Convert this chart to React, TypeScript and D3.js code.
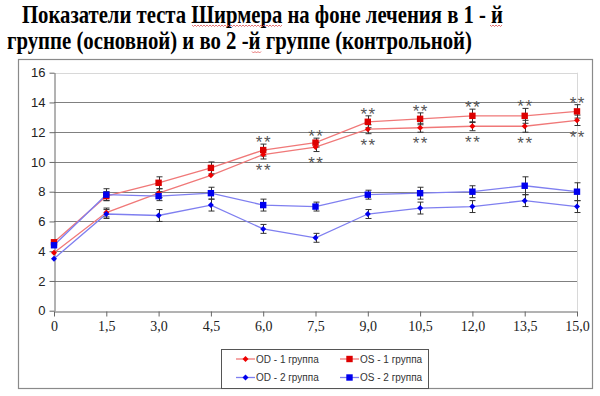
import React, { useRef, useEffect } from "react";
import * as d3 from "d3";

// time points (months) and labels
const timeValues = [0, 1.5, 3, 4.5, 6, 7.5, 9, 10.5, 12, 13.5, 15];
const timeLabels = ["0", "1,5", "3,0", "4,5", "6,0", "7,5", "9,0", "10,5", "12,0", "13,5", "15,0"];
const yTicks = [0, 2, 4, 6, 8, 10, 12, 14, 16];

// Schirmer test values
const odGroup1 = [3.9, 6.6, 7.9, 9.1, 10.5, 11.0, 12.2, 12.3, 12.4, 12.4, 12.8];
const osGroup1 = [4.6, 7.7, 8.6, 9.6, 10.8, 11.3, 12.7, 12.9, 13.1, 13.1, 13.4];
const odGroup2 = [3.5, 6.5, 6.4, 7.1, 5.5, 4.9, 6.5, 6.9, 7.0, 7.4, 7.0];
const osGroup2 = [4.4, 7.8, 7.7, 7.9, 7.1, 7.0, 7.8, 7.9, 8.0, 8.4, 8.0];

// error bar half widths
const odGroup1Err = [0, 0.3, 0.3, 0, 0.3, 0.3, 0.3, 0.3, 0.3, 0.4, 0.35];
const osGroup1Err = [0, 0.3, 0.4, 0.4, 0.4, 0.3, 0.4, 0.4, 0.45, 0.5, 0.45];
const odGroup2Err = [0, 0.3, 0.4, 0.4, 0.3, 0.3, 0.3, 0.4, 0.4, 0.4, 0.4];
const osGroup2Err = [0, 0.4, 0.3, 0.4, 0.4, 0.3, 0.3, 0.4, 0.4, 0.6, 0.6];

// indices marked with ** (significant difference)
const starIndices = [4, 5, 6, 7, 8, 9, 10];

const titleLines = [
  "Показатели теста Ширмера на фоне лечения в 1 - й",
  "группе (основной)  и во 2 -й группе (контрольной)",
];

const seriesList = [
  { name: "OD - 1 группа", values: odGroup1, errors: odGroup1Err, line: "#f07878", marker: "#ee0000", shape: "diamond" },
  { name: "OS - 1 группа", values: osGroup1, errors: osGroup1Err, line: "#f07878", marker: "#dd0000", shape: "square" },
  { name: "OD - 2 группа", values: odGroup2, errors: odGroup2Err, line: "#7f7ff0", marker: "#0000ee", shape: "diamond" },
  { name: "OS - 2 группа", values: osGroup2, errors: osGroup2Err, line: "#7f7ff0", marker: "#0000ee", shape: "square" },
];

const W = 600;
const H = 396;
const plot = { left: 54, right: 577, top: 72.7, bottom: 310.7 };

const drawMarker = (g, shape, x, y, color) => {
  if (shape === "square") {
    g.append("rect")
      .attr("x", x - 3.2)
      .attr("y", y - 3.2)
      .attr("width", 6.4)
      .attr("height", 6.4)
      .attr("fill", color);
  } else {
    g.append("path")
      .attr("d", `M${x},${y - 3}L${x + 3},${y}L${x},${y + 3}L${x - 3},${y}Z`)
      .attr("fill", color);
  }
};

const App = () => {
  const svgRef = useRef(null);

  useEffect(() => {
    const svg = d3.select(svgRef.current);
    svg.selectAll("*").remove();

    const xScale = d3.scaleLinear().domain([0, 15]).range([plot.left, plot.right]);
    const yScale = d3.scaleLinear().domain([0, 16]).range([plot.bottom, plot.top]);

    svg.append("rect").attr("width", W).attr("height", H).attr("fill", "#ffffff");

    // Title (narrow bold serif, stretched vertically like the original slide)
    const titlePos = [
      { x: 22, y: 22.5, len: 481 },
      { x: 7, y: 48.5, len: 465 },
    ];
    titleLines.forEach((t, i) => {
      svg.append("text")
        .attr("transform", `translate(${titlePos[i].x},${titlePos[i].y}) scale(1,1.2)`)
        .attr("textLength", titlePos[i].len)
        .attr("lengthAdjust", "spacingAndGlyphs")
        .style("font-family", "'Liberation Serif', 'Times New Roman', serif")
        .style("font-weight", "bold")
        .style("font-size", "21px")
        .attr("fill", "#000")
        .text(t);
    });

    // spell-check squiggles
    const squiggle = (x0, x1, y) => {
      const pts = d3.range(x0, x1 + 0.1, 1.5).map((x, i) => [x, y + (i % 2 ? 1 : -0.5)]);
      svg.append("path")
        .attr("d", d3.line()(pts))
        .attr("fill", "none")
        .attr("stroke", "#e05050")
        .attr("stroke-width", 0.8);
    };
    squiggle(192, 282, 25.5);
    squiggle(490, 502, 25.5);
    squiggle(252, 262, 52);

    // outer chart frame
    svg.append("rect")
      .attr("x", 18.5).attr("y", 59.5)
      .attr("width", 574).attr("height", 329)
      .attr("fill", "none")
      .attr("stroke", "#8a8a8a")
      .attr("stroke-width", 1.2);

    // gridlines
    svg.append("g")
      .selectAll("line")
      .data(yTicks.filter(d => d > 0))
      .join("line")
      .attr("x1", plot.left)
      .attr("x2", plot.right)
      .attr("y1", d => Math.round(yScale(d)) + 0.5)
      .attr("y2", d => Math.round(yScale(d)) + 0.5)
      .attr("stroke", d => (d === 16 ? "#d8d8d8" : "#808080"))
      .attr("stroke-width", 1);

    // plot right border
    svg.append("line")
      .attr("x1", plot.right + 0.5).attr("x2", plot.right + 0.5)
      .attr("y1", plot.top).attr("y2", plot.bottom)
      .attr("stroke", "#d8d8d8");

    // y axis
    const yAxis = svg.append("g")
      .attr("transform", `translate(${plot.left + 0.5},0)`)
      .call(d3.axisLeft(yScale).tickValues(yTicks).tickSize(5).tickSizeOuter(0).tickPadding(4));
    yAxis.select(".domain").attr("stroke", "#666");
    yAxis.selectAll(".tick line").attr("stroke", "#666");
    yAxis.selectAll("text")
      .style("font-family", "'Liberation Sans', Arial, sans-serif")
      .style("font-size", "13px")
      .attr("fill", "#222");

    // x axis
    const xAxis = svg.append("g")
      .attr("transform", `translate(0,${Math.round(plot.bottom) + 0.5})`)
      .call(d3.axisBottom(xScale).tickValues(timeValues).tickFormat((d, i) => timeLabels[i]).tickSize(5).tickSizeOuter(0).tickPadding(5));
    xAxis.select(".domain").attr("stroke", "#666");
    xAxis.selectAll(".tick line").attr("stroke", "#666");
    xAxis.selectAll("text")
      .style("font-family", "'Liberation Serif', 'Times New Roman', serif")
      .style("font-size", "14px")
      .attr("fill", "#222");

    // lines
    const lineGen = d3.line().x((d, i) => xScale(timeValues[i])).y(d => yScale(d));
    seriesList.forEach(s => {
      svg.append("path")
        .attr("d", lineGen(s.values))
        .attr("fill", "none")
        .attr("stroke", s.line)
        .attr("stroke-width", 1.3);
    });

    // error bars
    const errG = svg.append("g").attr("stroke", "#333").attr("stroke-width", 1);
    seriesList.forEach(s => {
      s.values.forEach((v, i) => {
        const e = s.errors[i];
        if (!e) return;
        const x = Math.round(xScale(timeValues[i])) + 0.5;
        const y1 = yScale(v + e);
        const y2 = yScale(v - e);
        errG.append("line").attr("x1", x).attr("x2", x).attr("y1", y1).attr("y2", y2);
        errG.append("line").attr("x1", x - 3).attr("x2", x + 3).attr("y1", y1).attr("y2", y1);
        errG.append("line").attr("x1", x - 3).attr("x2", x + 3).attr("y1", y2).attr("y2", y2);
      });
    });

    // markers
    const markG = svg.append("g");
    seriesList.forEach(s => {
      s.values.forEach((v, i) => drawMarker(markG, s.shape, xScale(timeValues[i]), yScale(v), s.marker));
    });

    // significance asterisks
    const starG = svg.append("g")
      .style("font-family", "'Liberation Sans', Arial, sans-serif")
      .style("font-size", "17px")
      .style("letter-spacing", "1.5px")
      .attr("fill", "#555")
      .attr("text-anchor", "middle");
    starIndices.forEach(i => {
      const x = xScale(timeValues[i]) + 0.75;
      starG.append("text")
        .attr("x", x)
        .attr("y", yScale(osGroup1[i] + osGroup1Err[i]) - 6 + 10)
        .text("**");
      starG.append("text")
        .attr("x", x)
        .attr("y", yScale(odGroup1[i] - odGroup1Err[i]) + 7 + 10)
        .text("**");
    });

    // legend
    const legend = svg.append("g");
    legend.append("rect")
      .attr("x", 221.5).attr("y", 349.5)
      .attr("width", 207).attr("height", 39)
      .attr("fill", "#fff")
      .attr("stroke", "#555");
    const legendX = [236, 340];
    const legendY = [359, 377.5];
    seriesList.forEach((s, k) => {
      const lx = legendX[k % 2];
      const ly = legendY[Math.floor(k / 2)];
      legend.append("line")
        .attr("x1", lx).attr("x2", lx + 19)
        .attr("y1", ly).attr("y2", ly)
        .attr("stroke", s.line).attr("stroke-width", 1.3);
      drawMarker(legend, s.shape, lx + 9.5, ly, s.marker);
      legend.append("text")
        .attr("x", lx + 20)
        .attr("y", ly + 3.5)
        .style("font-family", "'Liberation Sans', Arial, sans-serif")
        .style("font-size", "10px")
        .attr("fill", "#333")
        .text(s.name);
    });
  }, []);

  return (
    <div>
      <svg ref={svgRef} width={W} height={H} style={{ position: "absolute", left: 0, top: 0, display: "block" }}></svg>
    </div>
  );
};

export default App;
